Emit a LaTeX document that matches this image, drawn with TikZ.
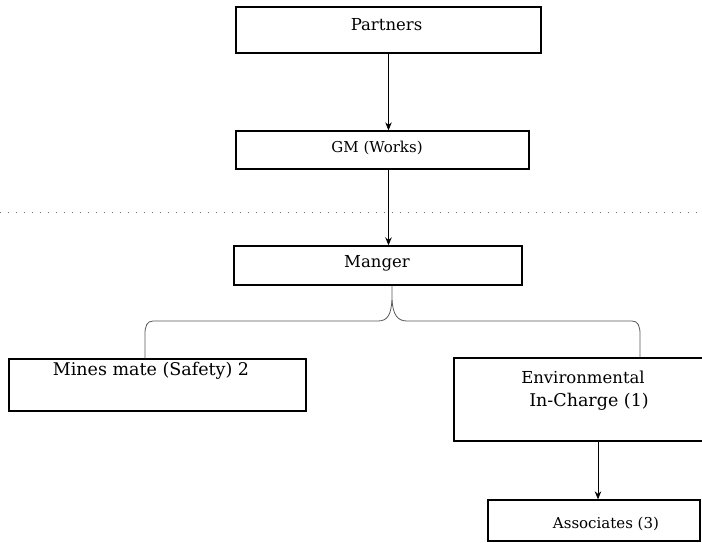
\documentclass[tikz,border=0pt]{standalone}
\usepackage{fontspec}
\setmainfont{DejaVu Serif}
\usetikzlibrary{arrows.meta}
\begin{document}
\begin{tikzpicture}[x=1pt,y=-1pt,
  box/.style={draw=black, line width=1.3pt, rectangle, inner sep=0pt},
  lbl/.style={anchor=base, inner sep=0pt, font=\fontsize{16.5}{19}\selectfont, text=black},
  smalllbl/.style={lbl, font=\fontsize{15}{18}\selectfont},
  widelbl/.style={lbl, font=\fontsize{17.5}{20}\selectfont},
  arr/.style={draw=black, line width=0.8pt, -{Stealth[length=8pt,width=6.5pt]}},
  brace/.style={draw=black!65, line width=0.8pt},
  sepline/.style={draw=black!55, line width=0.6pt, dash pattern=on 1pt off 7pt}]
\useasboundingbox (0,0) rectangle (702,543);
\fill[white] (0,0) rectangle (702,543);

% horizontal dotted separator
\draw[sepline] (0,212) -- (702,212);

% boxes
\node[box, minimum width=305pt, minimum height=46pt] (partners) at (388.5,30) {};
\node[box, minimum width=293pt, minimum height=38pt] (gm) at (382.5,150) {};
\node[box, minimum width=288pt, minimum height=39pt] (manger) at (378,265.5) {};
\node[box, minimum width=297pt, minimum height=52pt] (mines) at (157.5,385) {};
\node[box, minimum width=256pt, minimum height=83pt] (env) at (582,399.5) {};
\node[box, minimum width=212pt, minimum height=41pt] (assoc) at (594,520.5) {};

% box texts
\node[lbl] (tpartners) at (386.5,31) {Partners};
\node[smalllbl] (tgm) at (377,152) {GM (Works)};
\node[lbl] (tmanger) at (377,267) {Manger};
\node[widelbl] (tmines) at (151,375) {Mines mate (Safety) 2};
\node[lbl] (tenv1) at (583,383) {Environmental};
\node[widelbl] (tenv2) at (589,406) {In-Charge (1)};
\node[smalllbl] (tassoc) at (606,528) {Associates (3)};

% arrows
\draw[arr] (partners.south) -- (partners.south |- gm.north);
\draw[arr, line width=1.3pt] (gm.south -| partners.south) -- (manger.north -| partners.south);
\draw[arr] ([xshift=4pt]env.south -| assoc.north) -- ([xshift=4pt]assoc.north);

% brace from Manger to the two lower boxes
\coordinate (bl) at (145,0);
\coordinate (br) at (640,0);
\draw[brace] ([xshift=14pt]manger.south) -- (392,300)
  .. controls (391,314) and (388,321) .. (378,321)
  -- (153,321)
  .. controls (147,321) and (145,326) .. (145,334)
  -- (bl |- mines.north);
\draw[brace] (392,300)
  .. controls (393,314) and (397,321) .. (407,321)
  -- (632,321)
  .. controls (638,321) and (640,326) .. (640,334)
  -- (br |- env.north);
\end{tikzpicture}
\end{document}
